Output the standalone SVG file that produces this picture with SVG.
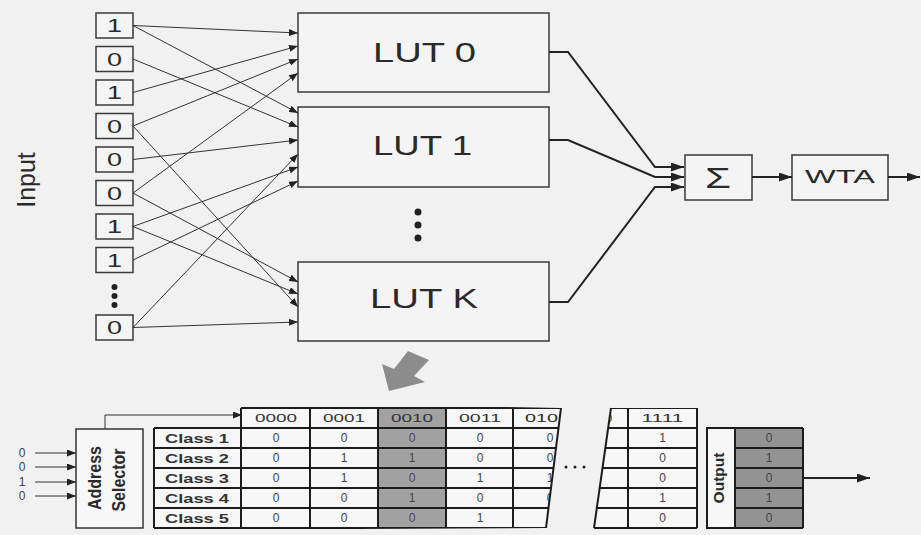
<svg xmlns="http://www.w3.org/2000/svg" width="921" height="535" viewBox="0 0 921 535">
<defs>
<style>
text{font-family:"Liberation Sans",Arial,sans-serif;fill:#2a2a2a}
.box{fill:#f4f4f4;stroke:#3a3a3a;stroke-width:1.5}
.ln{fill:none;stroke:#333;stroke-width:1}
.thk{fill:none;stroke:#222;stroke-width:2}
.grid{fill:none;stroke:#1c1c1c;stroke-width:2}
.cell{fill:#f7f7f7}
.shade{fill:#a2a2a2}
.oshade{fill:#939393}
.bit{font-size:18px;text-anchor:middle}
.lut{font-size:28px;text-anchor:middle}
.hdr{font-size:11px;text-anchor:middle;fill:#333}
.val{font-size:12px;text-anchor:middle;fill:#444}
.cls{font-size:13px;font-weight:bold;text-anchor:middle;fill:#333}
.dot{fill:#222}
</style>
<marker id="ah" markerUnits="userSpaceOnUse" markerWidth="9" markerHeight="7" refX="9" refY="3.5" orient="auto"><path d="M0,0 L9,3.5 L0,7 z" fill="#222"/></marker>
<marker id="ahb" markerUnits="userSpaceOnUse" markerWidth="13" markerHeight="9" refX="13" refY="4.5" orient="auto"><path d="M0,0 L13,4.5 L0,9 z" fill="#222"/></marker>
<clipPath id="clipL"><polygon points="154,400 561,408 546,528 154,530"/></clipPath>
<clipPath id="clipR"><polygon points="611,408 700,408 700,530 594,530"/></clipPath>
</defs>
<rect width="921" height="535" fill="#f1f1f2"/>

<text transform="translate(35,180) rotate(-90)" font-size="25" text-anchor="middle" fill="#333">Input</text>

<g id="inputs">
<g id="in0"><rect class="box" x="96" y="13" width="37" height="25"/><text class="bit" x="114.5" y="32" textLength="15" lengthAdjust="spacingAndGlyphs">1</text></g>
<g id="in1"><rect class="box" x="96" y="46.5" width="37" height="25"/><text class="bit" x="114.5" y="65.5" textLength="15" lengthAdjust="spacingAndGlyphs">0</text></g>
<g id="in2"><rect class="box" x="96" y="80" width="37" height="25"/><text class="bit" x="114.5" y="99" textLength="15" lengthAdjust="spacingAndGlyphs">1</text></g>
<g id="in3"><rect class="box" x="96" y="113.5" width="37" height="25"/><text class="bit" x="114.5" y="132.5" textLength="15" lengthAdjust="spacingAndGlyphs">0</text></g>
<g id="in4"><rect class="box" x="96" y="147" width="37" height="25"/><text class="bit" x="114.5" y="166" textLength="15" lengthAdjust="spacingAndGlyphs">0</text></g>
<g id="in5"><rect class="box" x="96" y="180.5" width="37" height="25"/><text class="bit" x="114.5" y="199.5" textLength="15" lengthAdjust="spacingAndGlyphs">0</text></g>
<g id="in6"><rect class="box" x="96" y="214" width="37" height="25"/><text class="bit" x="114.5" y="233" textLength="15" lengthAdjust="spacingAndGlyphs">1</text></g>
<g id="in7"><rect class="box" x="96" y="247.5" width="37" height="25"/><text class="bit" x="114.5" y="266.5" textLength="15" lengthAdjust="spacingAndGlyphs">1</text></g>
<g id="in-dots"><circle class="dot" cx="114.5" cy="287" r="3"/><circle class="dot" cx="114.5" cy="296" r="3"/><circle class="dot" cx="114.5" cy="305" r="3"/></g>
<g id="inN"><rect class="box" x="96" y="315" width="37" height="25"/><text class="bit" x="114.5" y="334" textLength="15" lengthAdjust="spacingAndGlyphs">0</text></g>
</g>

<g id="lut0"><rect class="box" x="298" y="13" width="251" height="79"/><text class="lut" x="424.5" y="62" textLength="103" lengthAdjust="spacingAndGlyphs">LUT 0</text></g>
<g id="lut1"><rect class="box" x="298" y="107" width="251" height="80"/><text class="lut" x="422.5" y="155" textLength="99" lengthAdjust="spacingAndGlyphs">LUT 1</text></g>
<g id="lut-dots"><circle class="dot" cx="418" cy="212" r="3.5"/><circle class="dot" cx="418" cy="225" r="3.5"/><circle class="dot" cx="418" cy="238" r="3.5"/></g>
<g id="lutK"><rect class="box" x="298" y="262" width="251" height="79"/><text class="lut" x="424" y="308" textLength="108" lengthAdjust="spacingAndGlyphs">LUT K</text></g>

<g id="sum"><rect class="box" x="685" y="155" width="67" height="45"/><text x="718" y="188" font-size="30" text-anchor="middle" textLength="26" lengthAdjust="spacingAndGlyphs">Σ</text></g>
<g id="wta"><rect class="box" x="792" y="155" width="96" height="45"/><text x="840" y="183" font-size="18" text-anchor="middle" textLength="70" lengthAdjust="spacingAndGlyphs">WTA</text></g>

<g id="connectors">
<path class="ln" marker-end="url(#ah)" d="M133,25.5 L298,33"/>
<path class="ln" marker-end="url(#ah)" d="M133,25.5 L298,113"/>
<path class="ln" marker-end="url(#ah)" d="M133,59 L298,127"/>
<path class="ln" marker-end="url(#ah)" d="M133,92.5 L298,46"/>
<path class="ln" marker-end="url(#ah)" d="M133,126 L298,59"/>
<path class="ln" marker-end="url(#ah)" d="M133,126 L298,307"/>
<path class="ln" marker-end="url(#ah)" d="M133,159.5 L298,140"/>
<path class="ln" marker-end="url(#ah)" d="M133,193 L298,73"/>
<path class="ln" marker-end="url(#ah)" d="M133,193 L298,282"/>
<path class="ln" marker-end="url(#ah)" d="M133,226.5 L298,167"/>
<path class="ln" marker-end="url(#ah)" d="M133,226.5 L298,294"/>
<path class="ln" marker-end="url(#ah)" d="M133,260 L298,181"/>
<path class="ln" marker-end="url(#ah)" d="M133,327.5 L298,154"/>
<path class="ln" marker-end="url(#ah)" d="M133,327.5 L298,322"/>
<path class="thk" marker-end="url(#ahb)" d="M549,52 H568 L655,167 H684"/>
<path class="thk" marker-end="url(#ahb)" d="M549,140 H568 L655,177 H684"/>
<path class="thk" marker-end="url(#ahb)" d="M549,302 H568 L655,187 H684"/>
<path class="thk" marker-end="url(#ahb)" d="M752,177 H792"/>
<path class="thk" marker-end="url(#ahb)" d="M888,177 H920"/>
<path class="ln" marker-end="url(#ah)" d="M105,429 V415 H242"/>
<path class="ln" marker-end="url(#ah)" d="M35,453 H76"/>
<path class="ln" marker-end="url(#ah)" d="M35,467 H76"/>
<path class="ln" marker-end="url(#ah)" d="M35,482 H76"/>
<path class="ln" marker-end="url(#ah)" d="M35,496 H76"/>
<path class="thk" stroke-width="1.5" marker-end="url(#ahb)" d="M803,478 H870"/>
</g>

<polygon id="zoom-arrow" points="389,391 382,364 394,369 408,351 429,360 414,376 425,382" fill="#8c8c8c"/>

<g id="addr-in">
<text class="val" x="22" y="457" font-size="11">0</text>
<text class="val" x="22" y="471" font-size="11">0</text>
<text class="val" x="22" y="486" font-size="11">1</text>
<text class="val" x="22" y="500" font-size="11">0</text>
</g>

<g id="address-selector">
<rect x="76" y="429" width="67" height="99" fill="#f7f7f7" stroke="#333" stroke-width="1.5"/>
<text transform="translate(101,478) scale(1.2,1) rotate(-90)" font-size="16" font-weight="bold" text-anchor="middle">Address</text>
<text transform="translate(125,480) scale(1.2,1) rotate(-90)" font-size="16" font-weight="bold" text-anchor="middle">Selector</text>
</g>

<g id="class-col">
<rect class="cell" x="154" y="428" width="87" height="100"/>
<path class="grid" d="M154,428 H241 M154,448 H241 M154,468 H241 M154,488 H241 M154,508 H241 M154,528 H241 M154,428 V528"/>
<text class="cls" x="197" y="443" textLength="64" lengthAdjust="spacingAndGlyphs">Class 1</text>
<text class="cls" x="197" y="463" textLength="64" lengthAdjust="spacingAndGlyphs">Class 2</text>
<text class="cls" x="197" y="483" textLength="64" lengthAdjust="spacingAndGlyphs">Class 3</text>
<text class="cls" x="197" y="503" textLength="64" lengthAdjust="spacingAndGlyphs">Class 4</text>
<text class="cls" x="197" y="523" textLength="64" lengthAdjust="spacingAndGlyphs">Class 5</text>
</g>

<g id="table-left">
<g clip-path="url(#clipL)">
<rect class="cell" x="241" y="408" width="345" height="120"/>
<rect class="shade" x="378" y="408" width="68" height="120"/>
<path class="grid" d="M241,408 H590 M241,428 H590 M241,448 H590 M241,468 H590 M241,488 H590 M241,508 H590 M241,528 H590 M241,408 V528 M310,408 V528 M378,408 V528 M446,408 V528 M513,408 V528"/>
<text class="hdr" x="276" y="422" textLength="42" lengthAdjust="spacingAndGlyphs">0000</text>
<text class="hdr" x="344" y="422" textLength="42" lengthAdjust="spacingAndGlyphs">0001</text>
<text class="hdr" x="412" y="422" textLength="42" lengthAdjust="spacingAndGlyphs">0010</text>
<text class="hdr" x="480" y="422" textLength="42" lengthAdjust="spacingAndGlyphs">0011</text>
<text x="525" y="422" font-size="11" fill="#333" textLength="33" lengthAdjust="spacingAndGlyphs">010</text>
<g class="rows">
<text class="val" x="276" y="442">0</text><text class="val" x="344" y="442">0</text><text class="val" x="412" y="442">0</text><text class="val" x="480" y="442">0</text><text class="val" x="550" y="442">0</text>
<text class="val" x="276" y="462">0</text><text class="val" x="344" y="462">1</text><text class="val" x="412" y="462">1</text><text class="val" x="480" y="462">0</text><text class="val" x="550" y="462">0</text>
<text class="val" x="276" y="482">0</text><text class="val" x="344" y="482">1</text><text class="val" x="412" y="482">0</text><text class="val" x="480" y="482">1</text><text class="val" x="550" y="482">1</text>
<text class="val" x="276" y="502">0</text><text class="val" x="344" y="502">0</text><text class="val" x="412" y="502">1</text><text class="val" x="480" y="502">0</text><text class="val" x="550" y="502">0</text>
<text class="val" x="276" y="522">0</text><text class="val" x="344" y="522">0</text><text class="val" x="412" y="522">0</text><text class="val" x="480" y="522">1</text><text class="val" x="550" y="522">1</text>
</g>
</g>
<path class="grid" stroke-width="1.5" d="M561,408 L546,528"/>
</g>

<g id="ellipsis"><circle class="dot" cx="566" cy="467" r="1.5"/><circle class="dot" cx="575" cy="467" r="1.5"/><circle class="dot" cx="584" cy="467" r="1.5"/></g>

<g id="table-right">
<g clip-path="url(#clipR)">
<rect class="cell" x="585" y="408" width="112" height="120"/>
<path class="grid" d="M585,408 H697 M585,428 H697 M585,448 H697 M585,468 H697 M585,488 H697 M585,508 H697 M585,528 H697 M628,408 V528 M697,408 V528"/>
<text class="hdr" x="609" y="422">0</text>
<text class="hdr" x="662.5" y="422" textLength="42" lengthAdjust="spacingAndGlyphs">1111</text>
<text class="val" x="662.5" y="442">1</text>
<text class="val" x="662.5" y="462">0</text>
<text class="val" x="662.5" y="482">0</text>
<text class="val" x="662.5" y="502">1</text>
<text class="val" x="662.5" y="522">0</text>
</g>
<path class="grid" stroke-width="1.5" d="M611,408 L594,528"/>
</g>

<g id="output">
<rect x="707" y="428" width="28" height="100" fill="#f7f7f7" stroke="#1c1c1c" stroke-width="2"/>
<text transform="translate(724,478) rotate(-90)" font-size="15.5" font-weight="bold" text-anchor="middle">Output</text>
<rect class="oshade" x="735" y="428" width="68" height="100"/>
<path class="grid" d="M735,428 H803 M735,448 H803 M735,468 H803 M735,488 H803 M735,508 H803 M735,528 H803 M735,428 V528 M803,428 V528"/>
<text class="val" x="769" y="442">0</text>
<text class="val" x="769" y="462">1</text>
<text class="val" x="769" y="482">0</text>
<text class="val" x="769" y="502">1</text>
<text class="val" x="769" y="522">0</text>
</g>
</svg>
